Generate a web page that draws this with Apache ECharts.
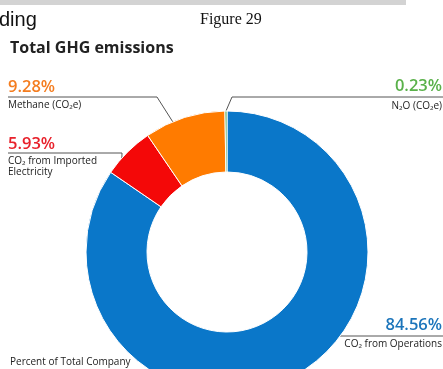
<!DOCTYPE html>
<html>
<head>
<meta charset="utf-8">
<style>
  html, body { margin: 0; padding: 0; background: #fff; }
  #chart { width: 443px; height: 369px; }
</style>
<script src="https://cdn.jsdelivr.net/npm/echarts@6/dist/echarts.min.js"></script>
</head>
<body>
<div id="chart"></div>
<script>
// Share of total GHG emissions, clockwise from 12 o'clock
const categories = ['CO₂ from Operations', 'CO₂ from Imported\nElectricity', 'Methane (CO₂e)', 'N₂O (CO₂e)'];
const shares = [84.56, 5.93, 9.28, 0.23];
const sliceColors = ['#0a77c9', '#f40808', '#ff7b00', '#3fa34d'];
const labelColors = ['#1c75bb', '#e8212b', '#f47d20', '#5ab14a'];

const chart = echarts.init(document.getElementById('chart'), null, { renderer: 'canvas' });

const CX = 227, CY = 252, R_IN = 80, R_OUT = 141;
const total = shares.reduce((a, b) => a + b, 0);

// point on the outer rim, at a fraction of the way through slice i
function rimPoint(i, frac, r) {
  let start = 0;
  for (let k = 0; k < i; k++) start += shares[k];
  const deg = (start + frac * shares[i]) / total * 360;
  const rad = deg * Math.PI / 180;
  return [CX + r * Math.sin(rad), CY - r * Math.cos(rad)];
}

const FONT = '"Open Sans", "Noto Sans", sans-serif';
const PCT_FONT = '600 16.5px ' + FONT;
const NAME_FONT = '10px ' + FONT;
const lineStyle = { stroke: '#555', lineWidth: 1, fill: null };

function pct(v) { return v.toFixed(2) + '%'; }

const graphics = [
  // page header fragments
  { type: 'rect', shape: { x: 0, y: 0, width: 406, height: 5 }, style: { fill: '#d3d3d3' } },
  { type: 'text', x: -1, y: 20, style: { text: 'ding', font: '20px "Liberation Sans", sans-serif', fill: '#111', verticalAlign: 'middle' } },
  { type: 'text', x: 200, y: 20, style: { text: 'Figure 29', font: '16px "Liberation Serif", serif', fill: '#111', verticalAlign: 'middle' } },
  { type: 'text', x: 10, y: 48, style: { text: 'Total GHG emissions', font: 'bold 16px ' + FONT, fill: '#222', verticalAlign: 'middle' } },
  { type: 'text', x: 10, y: 362, style: { text: 'Percent of Total Company', font: NAME_FONT, fill: '#222', verticalAlign: 'middle' } },

  // Methane
  { type: 'polyline', z: 1, shape: { points: [[8, 97], [157, 97], rimPoint(2, 0.35, R_OUT - 1)] }, style: lineStyle },
  { type: 'text', x: 8, y: 87, style: { text: pct(shares[2]), font: PCT_FONT, fill: labelColors[2], verticalAlign: 'middle' } },
  { type: 'text', x: 8, y: 105, style: { text: categories[2], font: NAME_FONT, fill: '#222', verticalAlign: 'middle' } },

  // Imported electricity
  { type: 'polyline', z: 1, shape: { points: [[8, 153], [122, 153], rimPoint(1, 0.25, R_OUT - 4)] }, style: lineStyle },
  { type: 'text', x: 8, y: 144, style: { text: pct(shares[1]), font: PCT_FONT, fill: labelColors[1], verticalAlign: 'middle' } },
  { type: 'text', x: 8, y: 156, style: { text: categories[1], font: NAME_FONT, fill: '#222', verticalAlign: 'top', lineHeight: 11 } },

  // N2O
  { type: 'polyline', z: 1, shape: { points: [rimPoint(3, 0.5, R_OUT), [232, 97], [443, 97]] }, style: lineStyle },
  { type: 'text', x: 442, y: 86, style: { text: pct(shares[3]), font: PCT_FONT, fill: labelColors[3], align: 'right', verticalAlign: 'middle' } },
  { type: 'text', x: 442, y: 106, style: { text: categories[3], font: NAME_FONT, fill: '#222', align: 'right', verticalAlign: 'middle' } },

  // Operations
  { type: 'polyline', z: 1, shape: { points: [[330, 336], [443, 336]] }, style: lineStyle },
  { type: 'text', x: 442, y: 325, style: { text: pct(shares[0]), font: PCT_FONT, fill: labelColors[0], align: 'right', verticalAlign: 'middle' } },
  { type: 'text', x: 442, y: 344, style: { text: categories[0], font: NAME_FONT, fill: '#222', align: 'right', verticalAlign: 'middle' } }
];

chart.setOption({
  animation: false,
  backgroundColor: '#fff',
  graphic: { elements: graphics },
  series: [{
    type: 'pie',
    z: 2,
    center: [CX, CY],
    radius: [R_IN, R_OUT],
    startAngle: 90,
    clockwise: true,
    label: { show: false },
    labelLine: { show: false },
    emphasis: { disabled: true },
    itemStyle: { borderColor: '#fff', borderWidth: 1 },
    data: shares.map((v, i) => ({ name: categories[i], value: v, itemStyle: { color: sliceColors[i] } }))
  }]
});
</script>
</body>
</html>
